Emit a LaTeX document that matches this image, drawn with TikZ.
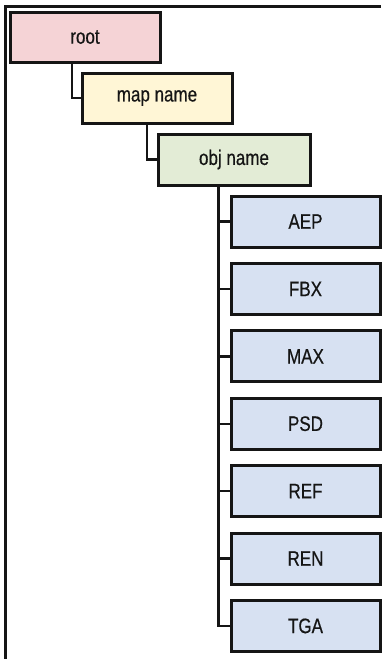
\documentclass[tikz,border=0pt]{standalone}
\usepackage{fontspec}
\setmainfont[FakeStretch=0.81,FakeBold=0.5]{Liberation Sans}
\definecolor{rootfill}{HTML}{F5D3D6}
\definecolor{mapfill}{HTML}{FFF6D6}
\definecolor{objfill}{HTML}{E3ECD6}
\definecolor{extfill}{HTML}{D7E1F2}
\definecolor{ink}{HTML}{151515}
\begin{document}
\begin{tikzpicture}[x=1pt,y=1pt,
  every node/.style={font=\fontsize{21}{23}\selectfont, text=ink},
  box/.style={draw=ink, line width=3pt, minimum width=150pt, minimum height=50pt, inner sep=0pt, anchor=center},
  rootbox/.style={box, fill=rootfill},
  mapbox/.style={box, fill=mapfill},
  objbox/.style={box, fill=objfill, minimum width=152pt, minimum height=51pt},
  extbox/.style={box, fill=extfill, minimum width=149pt, minimum height=51pt},
  link/.style={draw=ink, line width=2.4pt}
]
\useasboundingbox (0,0) rectangle (381,-659);

% outer frame (open on the right and bottom)
\draw[ink, line width=3pt] (5.5,-659) -- (5.5,-6) -- (381,-6);

% hierarchy
\node[rootbox] (root) at (85,-37) {root};
\node[mapbox]  (map)  at (157,-98) {map name};
\node[objbox]  (obj)  at (234,-159.5) {obj name};

\foreach \name [count=\i from 0] in {AEP,FBX,MAX,PSD,REF,REN,TGA}{
  \node[extbox] (\name) at (305.5,{-221.5-67.4*\i}) {\name};
}

% elbow connectors
\coordinate (rootdrop) at (72,0);
\coordinate (mapdrop)  at (147,0);
\coordinate (trunk)    at (218.5,0);

\draw[link] (rootdrop |- root.south) |- (map.west);
\draw[link] (mapdrop |- map.south) |- (obj.west);
\draw[link] (trunk |- obj.south) |- (TGA.west);
\foreach \name in {AEP,FBX,MAX,PSD,REF,REN}{
  \draw[link] (trunk |- \name.west) -- (\name.west);
}
\end{tikzpicture}
\end{document}
